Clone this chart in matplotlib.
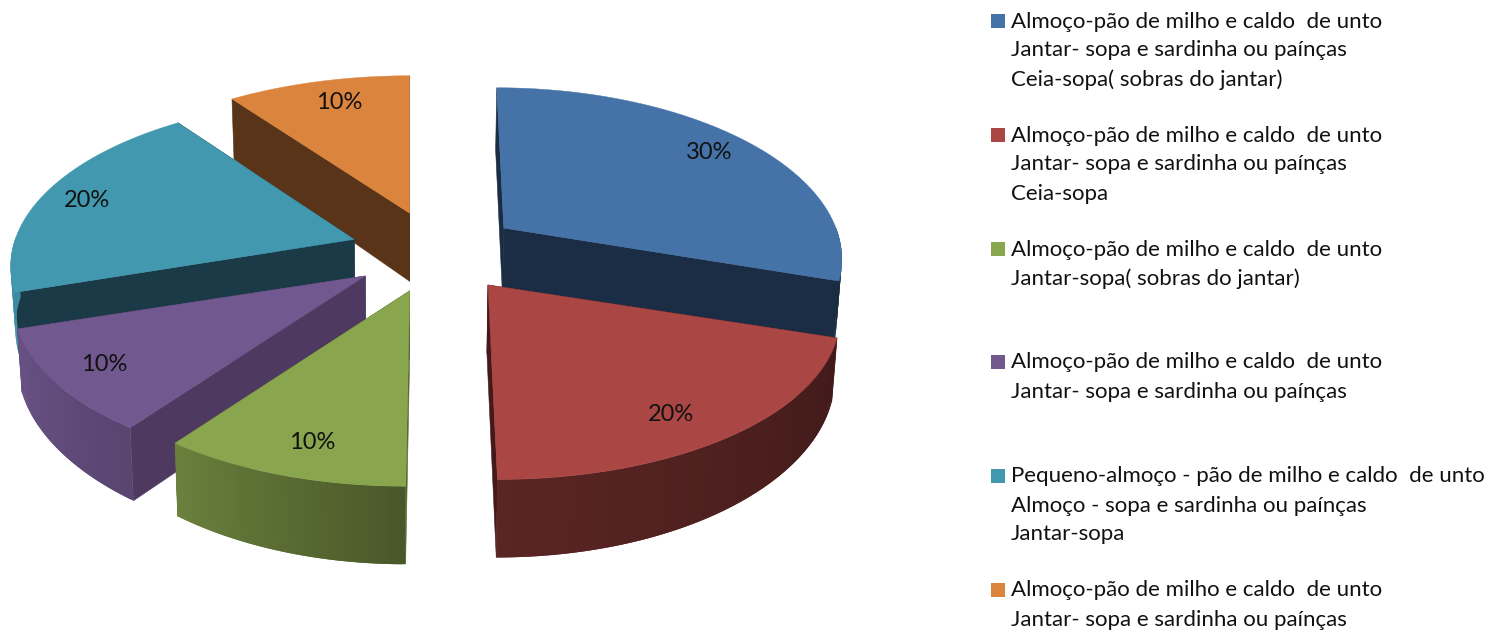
import numpy as np
import matplotlib
matplotlib.use('Agg')
import matplotlib.pyplot as plt
from matplotlib.patches import Polygon, Rectangle
from matplotlib.colors import to_rgb

# pie values (%), clockwise from the top
values = [30, 20, 10, 10, 20, 10]
top_colors = ['#4573A7', '#AA4643', '#89A54E', '#71588F', '#4198AF', '#DB843D']
wall_colors = ['#1B2C45', '#45191A', '#56692F', '#4E3A61', '#193A46', '#5A3418']

legend_lines = [
    ['Almoço-pão de milho e caldo  de unto', 'Jantar- sopa e sardinha ou paínças', 'Ceia-sopa( sobras do jantar)'],
    ['Almoço-pão de milho e caldo  de unto', 'Jantar- sopa e sardinha ou paínças', 'Ceia-sopa'],
    ['Almoço-pão de milho e caldo  de unto', 'Jantar-sopa( sobras do jantar)'],
    ['Almoço-pão de milho e caldo  de unto', 'Jantar- sopa e sardinha ou paínças'],
    ['Pequeno-almoço - pão de milho e caldo  de unto', 'Almoço - sopa e sardinha ou paínças', 'Jantar-sopa'],
    ['Almoço-pão de milho e caldo  de unto', 'Jantar- sopa e sardinha ou paínças'],
]
legend_y = [20, 134, 248, 361, 475, 589]

plt.rcParams['font.family'] = ['Lato', 'DejaVu Sans']

# projection settings
CX, CY = 436, 252     # pie centre
RX, RY = 340, 163     # radii in the picture plane
K = 0.162             # perspective strength
EXPLODE = 0.25

# small per-slice corrections to the perspective
x_scale = [0.977, 1.018, 1.007, 1.022, 0.997, 1.006]
y_scale = [1.0, 1.0, 1.005, 1.0, 1.0, 0.98]
tip_shift = [-1, 2, 0, -2, -1, 0]
lean = [50, 49, -21, 0, 0, 0]    # sideways drift of a slice towards the viewer

# nudges for the percent labels
label_shift = [(5, -3), (-10, 8), (5, 6), (-11, 3), (-13, 1), (6, 0)]


def uv(deg):
    t = np.radians(deg)
    return np.sin(t), -np.cos(t)


def project(i, deg, frac=1.0):
    # rim point of slice i, measured from its tip
    tx, ty = tips[i]
    u, v = uv(deg)
    u, v = u * frac, v * frac
    s = 1 / (1 - K * v)
    return tx + (RX * x_scale[i] * u + lean[i]) * s - lean[i], ty + RY * y_scale[i] * v * s


def drop(x, y, d):
    # point below (x, y) on the underside, verticals lean slightly inwards
    return x + (400 - x) * 0.012, y + d


def depth(v):
    return 60 + 8 * v + 10 * v * v


def shade(col, f):
    return tuple(c * f for c in to_rgb(col))


fig = plt.figure(figsize=(14.93, 6.33), dpi=100)
ax = fig.add_axes([0, 0, 1, 1])
ax.set_xlim(0, 1493)
ax.set_ylim(633, 0)
ax.axis('off')

edges = np.cumsum([0] + values) * 3.6
label_pos = {}
tips = []
for i in range(len(values)):
    mid = (edges[i] + edges[i + 1]) / 2
    u, v = uv(mid)
    tips.append((CX + EXPLODE * RX * u + tip_shift[i], CY + EXPLODE * RY * v))

# back slices first so the front ones cover them
for i in [5, 4, 0, 3, 2, 1]:
    a0, a1 = edges[i], edges[i + 1]
    tx, ty = tips[i]
    tip_low = drop(tx, ty, 68)

    # the two cut faces
    for a in (a0, a1):
        x, y = project(i, a)
        xb, yb = drop(x, y, depth(uv(a)[1]))
        ax.add_patch(Polygon([(tx, ty), (x, y), (xb, yb), tip_low], fc=wall_colors[i], ec=wall_colors[i], lw=0.4))

    # outer rim, only the part facing the viewer; strips overlap to avoid seams
    angs = np.linspace(a0, a1, int((a1 - a0) * 2) + 2)
    step = angs[1] - angs[0]
    for a in angs[:-1]:
        b = min(a + 2 * step, a1)
        if a + step < 90 or a > 270:
            continue
        f = np.interp(a + step / 2, [0, 108, 180, 216, 252, 360], [0.38, 0.38, 0.53, 0.78, 0.93, 0.93])
        xa, ya = project(i, a)
        xc, yc = project(i, b)
        pts = [(xa, ya), (xc, yc), drop(xc, yc, depth(uv(b)[1])), drop(xa, ya, depth(uv(a)[1]))]
        ax.add_patch(Polygon(pts, fc=shade(top_colors[i], f), ec='none'))

    # top face
    rim = [project(i, a) for a in angs]
    ax.add_patch(Polygon([(tx, ty)] + rim, fc=top_colors[i], ec=top_colors[i], lw=0.3))

    lx, ly = project(i, (a0 + a1) / 2, 0.82)
    label_pos[i] = (lx + label_shift[i][0], ly + label_shift[i][1])

for i, val in enumerate(values):
    lx, ly = label_pos[i]
    ax.text(lx, ly, f'{val}%', fontsize=17, color='#111111', ha='center', va='center')

# legend
for col, lines, y0 in zip(top_colors, legend_lines, legend_y):
    ax.add_patch(Rectangle((991, y0 - 6), 14, 14, fc=col, ec='none'))
    for k, line in enumerate(lines):
        ax.text(1011, y0 + 1.5 + k * 29, line, fontsize=16, color='#111111', ha='left', va='center')

fig.savefig('out.png', dpi=100)
